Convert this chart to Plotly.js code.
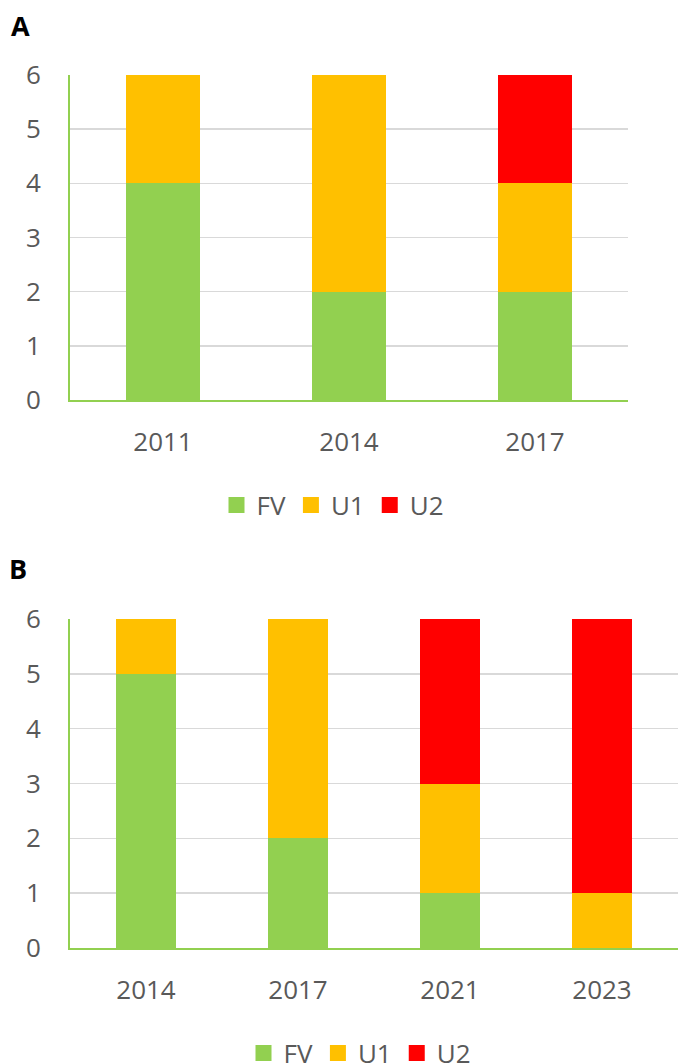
<!DOCTYPE html>
<html><head><meta charset="utf-8">
<script src="https://cdn.plot.ly/plotly-3.0.1.min.js"></script>
<style>html,body{margin:0;padding:0;background:#fff}</style>
</head><body><div id="chart" style="width:678px;height:1064px"></div>
<script>
const yearsA = ['2011','2014','2017'];
const fvA = [4,2,2];
const u1A = [2,4,2];
const u2A = [0,0,2];
const yearsB = ['2014','2017','2021','2023'];
const fvB = [5,2,1,0];
const u1B = [1,4,2,1];
const u2B = [0,0,3,5];
const seriesNames = ['FV','U1','U2'];
const colors = ['#92D050','#FFC000','#FF0000'];
const yTicks = [0,1,2,3,4,5,6];

const font = {family:'Open Sans, sans-serif', size:26, color:'#595959'};
const traces = [];
const dataA = [fvA,u1A,u2A], dataB = [fvB,u1B,u2B];
dataA.forEach((v,i)=>traces.push({type:'bar',x:yearsA,y:v,name:seriesNames[i],marker:{color:colors[i]},width:0.4,xaxis:'x',yaxis:'y',showlegend:false,hoverinfo:'skip'}));
dataB.forEach((v,i)=>traces.push({type:'bar',x:yearsB,y:v,name:seriesNames[i],marker:{color:colors[i]},width:0.4,xaxis:'x2',yaxis:'y2',showlegend:false,hoverinfo:'skip'}));
seriesNames.forEach((n,i)=>traces.push({type:'scatter',mode:'markers',x:[null],y:[null],name:n,marker:{symbol:'square',size:16,color:colors[i]},xaxis:'x',yaxis:'y',legend:'legend'}));
seriesNames.forEach((n,i)=>traces.push({type:'scatter',mode:'markers',x:[null],y:[null],name:n,marker:{symbol:'square',size:16,color:colors[i]},xaxis:'x2',yaxis:'y2',legend:'legend2'}));

const yax = (dom,anchor)=>({domain:dom,anchor:anchor,range:[0,6],tickvals:yTicks,showgrid:true,gridcolor:'#D9D9D9',gridwidth:1.5,zeroline:false,showline:true,linecolor:'#92D050',linewidth:2,ticks:'',ticklabelstandoff:22,tickfont:font,fixedrange:true});
const xax = (dom,anchor,cats)=>({domain:dom,anchor:anchor,type:'category',categoryarray:cats,range:[-0.5,cats.length-0.5],showgrid:false,zeroline:false,showline:true,linecolor:'#92D050',linewidth:2,ticks:'',ticklabelstandoff:18,tickfont:font,fixedrange:true});

const layout = {
  width:678,height:1064,margin:{l:0,r:0,t:0,b:0,autoexpand:false},
  paper_bgcolor:'#fff',plot_bgcolor:'#fff',barmode:'stack',
  font:font,
  xaxis:xax([70/678,628/678],'y',yearsA),
  yaxis:yax([1-400/1064,1-75/1064],'x'),
  xaxis2:xax([70/678,1],'y2',yearsB),
  yaxis2:yax([1-948/1064,1-619/1064],'x2'),
  legend:{orientation:'h',traceorder:'normal',x:333/678,xanchor:'center',y:1-505/1064,yanchor:'middle',font:font,itemwidth:30},
  legend2:{orientation:'h',traceorder:'normal',x:360/678,xanchor:'center',y:1-1053/1064,yanchor:'middle',font:font,itemwidth:30},
  annotations:[
    {text:'<b>A</b>',xref:'paper',yref:'paper',x:9/678,y:1-25/1064,xanchor:'left',yanchor:'middle',showarrow:false,font:{family:'Open Sans, sans-serif',size:27,color:'#000'}},
    {text:'<b>B</b>',xref:'paper',yref:'paper',x:7/678,y:1-568/1064,xanchor:'left',yanchor:'middle',showarrow:false,font:{family:'Open Sans, sans-serif',size:27,color:'#000'}}
  ]
};
Plotly.newPlot('chart',traces,layout,{displayModeBar:false,staticPlot:true});
</script></body></html>
